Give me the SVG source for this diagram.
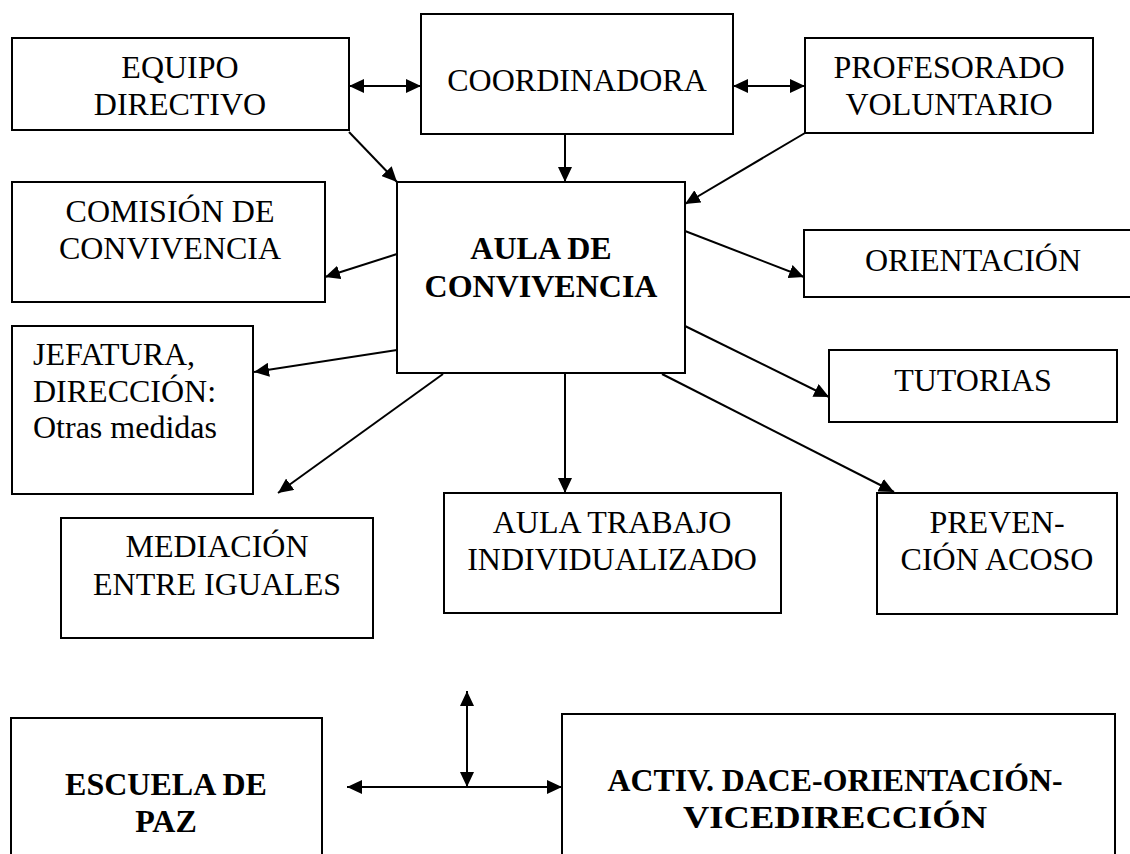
<svg xmlns="http://www.w3.org/2000/svg" width="1130" height="854" viewBox="0 0 1130 854">
<style>
.box{fill:#fff;stroke:#000;stroke-width:2}
.t{font-family:"Liberation Serif","Times New Roman",serif;font-size:32px;fill:#000;text-anchor:middle}
.s{text-anchor:start}
.b{font-weight:bold}
.c{stroke:#000;stroke-width:2;fill:none;marker-end:url(#ah)}
.d{marker-start:url(#ah)}
</style>
<defs>
<marker id="ah" markerUnits="userSpaceOnUse" markerWidth="15" markerHeight="14" refX="15" refY="7" orient="auto-start-reverse" viewBox="0 0 15 14">
<path d="M0,0 L15,7 L0,14 z" fill="#000"/>
</marker>
</defs>
<rect width="1130" height="854" fill="#fff"/>
<g id="equipo-directivo"><rect class="box" x="12" y="38" width="337" height="92"/><text class="t" x="180" y="78">EQUIPO</text><text class="t" x="180" y="115">DIRECTIVO</text></g>
<g id="coordinadora"><rect class="box" x="421" y="14" width="312" height="120"/><text class="t" x="577" y="91">COORDINADORA</text></g>
<g id="profesorado-voluntario"><rect class="box" x="805" y="38" width="288" height="95"/><text class="t" x="949" y="78">PROFESORADO</text><text class="t" x="949" y="115">VOLUNTARIO</text></g>
<g id="aula-convivencia"><rect class="box" x="397" y="182" width="288" height="191"/><text class="t b" x="541" y="259">AULA DE</text><text class="t b" x="541" y="297">CONVIVENCIA</text></g>
<g id="comision-convivencia"><rect class="box" x="12" y="182" width="313" height="120"/><text class="t" x="170" y="222">COMISIÓN DE</text><text class="t" x="170" y="259">CONVIVENCIA</text></g>
<g id="orientacion"><rect class="box" x="804" y="230" width="338" height="67"/><text class="t" x="973" y="271">ORIENTACIÓN</text></g>
<g id="jefatura"><rect class="box" x="12" y="326" width="241" height="168"/><text class="t s" x="33" y="365">JEFATURA,</text><text class="t s" x="33" y="402">DIRECCIÓN:</text><text class="t s" x="33" y="438">Otras medidas</text></g>
<g id="tutorias"><rect class="box" x="829" y="350" width="288" height="72"/><text class="t" x="973" y="391">TUTORIAS</text></g>
<g id="mediacion"><rect class="box" x="61" y="518" width="312" height="120"/><text class="t" x="217" y="557">MEDIACIÓN</text><text class="t" x="217" y="595">ENTRE IGUALES</text></g>
<g id="aula-trabajo"><rect class="box" x="444" y="493" width="337" height="120"/><text class="t" x="612" y="533">AULA TRABAJO</text><text class="t" x="612" y="570">INDIVIDUALIZADO</text></g>
<g id="prevencion-acoso"><rect class="box" x="877" y="493" width="240" height="121"/><text class="t" x="997" y="533">PREVEN-</text><text class="t" x="997" y="570">CIÓN ACOSO</text></g>
<g id="escuela-paz"><rect class="box" x="11" y="718" width="311" height="200"/><text class="t b" x="166" y="795">ESCUELA DE</text><text class="t b" x="166" y="832">PAZ</text></g>
<g id="activ-dace"><rect class="box" x="562" y="714" width="553" height="200"/><text class="t b" x="835" y="791" textLength="455" lengthAdjust="spacingAndGlyphs">ACTIV. DACE-ORIENTACIÓN-</text><text class="t b" x="835" y="828" textLength="304" lengthAdjust="spacingAndGlyphs">VICEDIRECCIÓN</text></g>
<g id="connectors">
<line class="c d" x1="349" y1="86" x2="421" y2="86"/>
<line class="c d" x1="733" y1="86" x2="805" y2="86"/>
<line class="c" x1="565" y1="134" x2="565" y2="182"/>
<line class="c" x1="349" y1="132" x2="397" y2="182"/>
<line class="c" x1="805" y1="133" x2="685" y2="204"/>
<line class="c" x1="397" y1="254" x2="325" y2="277"/>
<line class="c" x1="685" y1="231" x2="804" y2="277"/>
<line class="c" x1="397" y1="350" x2="254" y2="372"/>
<line class="c" x1="685" y1="326" x2="829" y2="397"/>
<line class="c" x1="443" y1="374" x2="278" y2="493"/>
<line class="c" x1="565" y1="373" x2="565" y2="493"/>
<line class="c" x1="662" y1="374" x2="894" y2="492"/>
<line class="c d" x1="347" y1="787" x2="562" y2="787"/>
<line class="c d" x1="467" y1="691" x2="467" y2="787"/>
</g>
</svg>
